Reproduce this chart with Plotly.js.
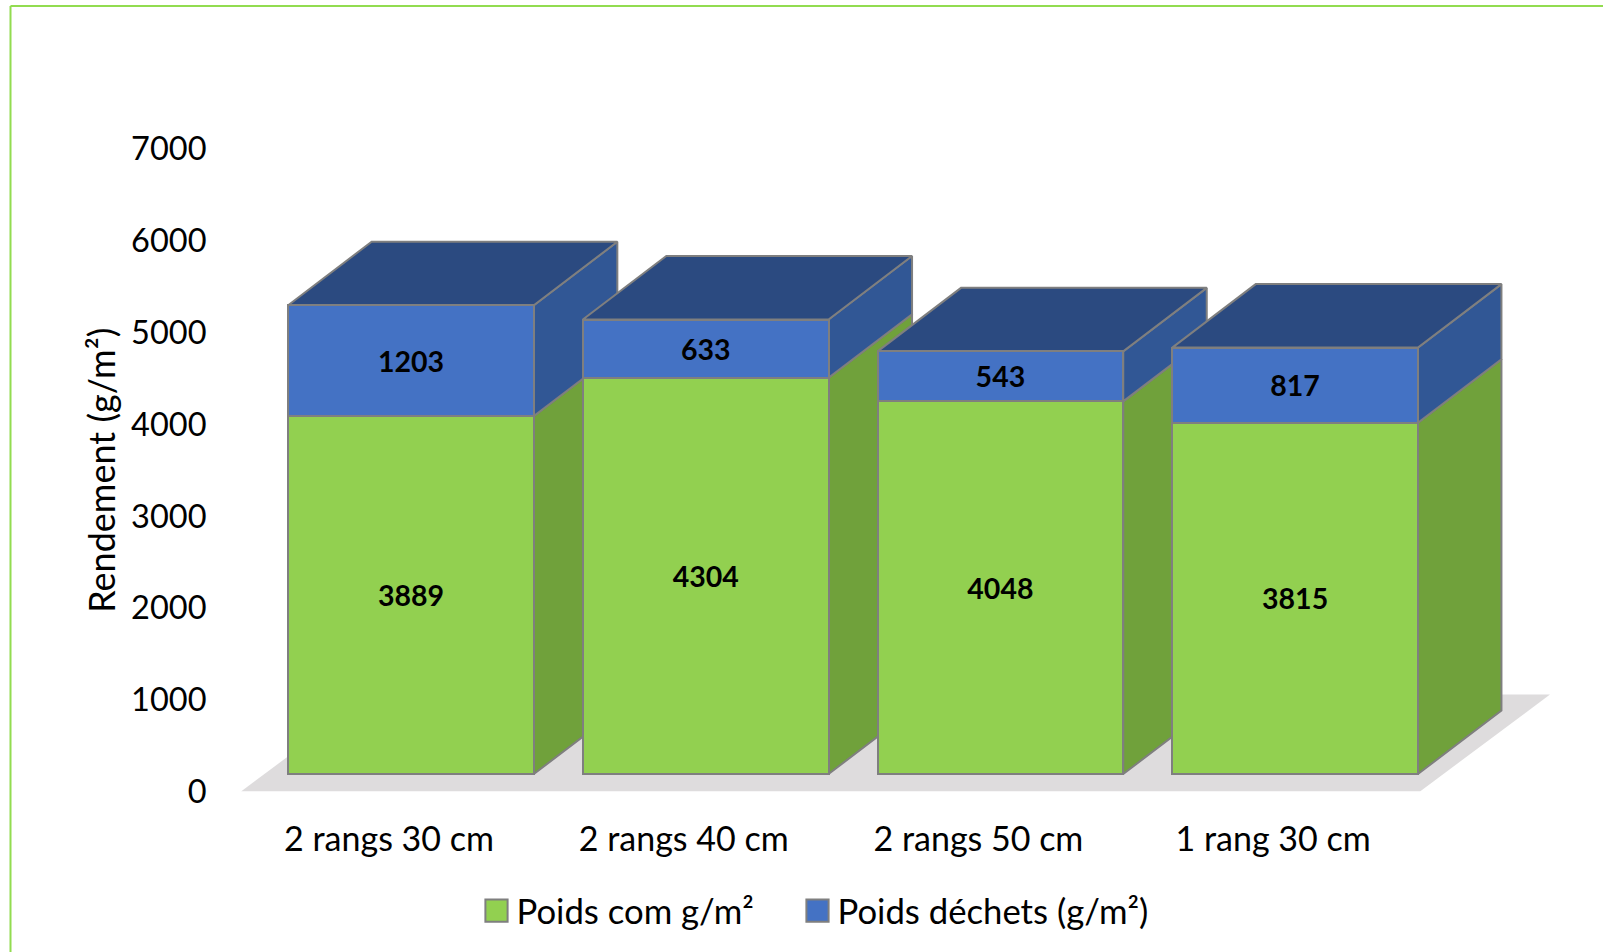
<!DOCTYPE html>
<html>
<head>
<meta charset="utf-8">
<script src="https://cdn.plot.ly/plotly-3.0.1.min.js"></script>
<style>html,body{margin:0;padding:0;background:#fff;overflow:hidden}#chart{width:1603px;height:952px}</style>
</head>
<body>
<div id="chart"></div>
<script>
const categories = ['2 rangs 30 cm', '2 rangs 40 cm', '2 rangs 50 cm', '1 rang 30 cm'];
const poidsCom = [3889, 4304, 4048, 3815];
const poidsDechets = [1203, 633, 543, 817];
const yTicks = [0, 1000, 2000, 3000, 4000, 5000, 6000, 7000];

const W = 1603, H = 952, FONT = 'Lato, "Open Sans", sans-serif';
const GREEN = '#92D050', GREEN_SIDE = '#70A13B', BLUE = '#4472C4', BLUE_SIDE = '#315795', BLUE_TOP = '#2B4A80';
const EDGE = '#7F7F7F', FLOOR = '#DEDCDD', FRAME = '#92DC50';

// Pixel geometry of the plotting frame
const pitch = 294.7, x0px = 411, domL = 215, domR = 1590;
const yBottom = 791.5, yTop = 149, scale = 0.09206, barBase = 774;
const barW = 0.8337, depthX = 83.5 / pitch, depthY = 63.5 / scale;
const xPos = categories.map((_, i) => i);
const baseUnits = (yBottom - barBase) / scale;
const spanUnits = (yBottom - yTop) / scale;

const traces = [];
// floor, on the labelled axis
const fL = (241 - x0px) / pitch, fR = (1420 - x0px) / pitch, fDx = 130 / pitch, fH = 97 / ((yBottom - yTop) / 7000);
traces.push({type: 'scatter', mode: 'none', fill: 'toself', fillcolor: FLOOR, showlegend: false, hoverinfo: 'skip',
  x: [fL, fR, fR + fDx, fL + fDx, fL], y: [0, 0, fH, fH, 0], xaxis: 'x', yaxis: 'y'});

function poly(xs, ys, col) {
  traces.push({type: 'scatter', mode: 'lines', fill: 'toself', fillcolor: col, showlegend: false, hoverinfo: 'skip',
    line: {color: EDGE, width: 2}, x: xs, y: ys, xaxis: 'x', yaxis: 'y2'});
}
xPos.forEach((c, i) => {
  const l = c - barW / 2, r = c + barW / 2, g = poidsCom[i], t = g + poidsDechets[i];
  poly([r, r + depthX, r + depthX, r, r], [0, depthY, g + depthY, g, 0], GREEN_SIDE);
  poly([r, r + depthX, r + depthX, r, r], [g, g + depthY, t + depthY, t, g], BLUE_SIDE);
  poly([l, r, r + depthX, l + depthX, l], [t, t, t + depthY, t + depthY, t], BLUE_TOP);
});
const barCommon = {type: 'bar', x: xPos, width: barW, xaxis: 'x', yaxis: 'y3', textposition: 'inside', insidetextanchor: 'middle',
  textangle: 0, constraintext: 'none', hoverinfo: 'name+y',
  textfont: {family: FONT, size: 28.5, color: '#000', weight: 700}};
traces.push(Object.assign({}, barCommon, {name: 'Poids com g/m²', y: poidsCom, text: poidsCom.map(String),
  marker: {color: GREEN, line: {color: EDGE, width: 2}}}));
traces.push(Object.assign({}, barCommon, {name: 'Poids déchets (g/m²)', y: poidsDechets, text: poidsDechets.map(String),
  marker: {color: BLUE, line: {color: EDGE, width: 2}}}));

const yDomain = [(H - yBottom) / H, (H - yTop) / H];
const hidden = {visible: false, overlaying: 'y', domain: yDomain, range: [-baseUnits, spanUnits - baseUnits], fixedrange: true};
const layout = {
  width: W, height: H, margin: {l: 0, r: 0, t: 0, b: 0}, paper_bgcolor: '#fff', plot_bgcolor: 'rgba(0,0,0,0)',
  font: {family: FONT, color: '#000'}, barmode: 'stack', showlegend: true,
  xaxis: {domain: [domL / W, domR / W], range: [(domL - x0px) / pitch, (domR - x0px) / pitch], showgrid: false, zeroline: false, showline: false,
    tickmode: 'array', tickvals: xPos.map(v => v - 22 / pitch), ticktext: categories, ticks: 'outside', ticklen: 18, tickcolor: 'rgba(0,0,0,0)',
    tickfont: {family: FONT, size: 34, color: '#000'}, fixedrange: true},
  yaxis: {domain: yDomain, range: [0, 7000], showgrid: false, zeroline: false, showline: false, tickmode: 'array', tickvals: yTicks,
    ticks: 'outside', ticklen: 1, tickcolor: 'rgba(0,0,0,0)', tickfont: {family: FONT, size: 32.5, color: '#000'}, fixedrange: true,
    title: {text: 'Rendement (g/m²)', standoff: 4, font: {family: FONT, size: 36, color: '#000'}}},
  yaxis2: hidden,
  yaxis3: Object.assign({}, hidden),
  legend: {orientation: 'h', traceorder: 'normal', x: 476.5 / W, xanchor: 'left', y: (H - 911) / H, yanchor: 'middle', bgcolor: 'rgba(0,0,0,0)',
    entrywidthmode: 'pixels', entrywidth: 276,
    font: {family: FONT, size: 34.7, color: '#000'}, itemclick: false, itemdoubleclick: false},
  shapes: [
    {type: 'line', xref: 'paper', yref: 'paper', x0: 10.5 / W, x1: 10.5 / W, y0: 0, y1: (H - 6) / H, line: {color: FRAME, width: 2}},
    {type: 'line', xref: 'paper', yref: 'paper', x0: 10.5 / W, x1: 1, y0: (H - 6) / H, y1: (H - 6) / H, line: {color: FRAME, width: 2}}
  ]
};
Plotly.newPlot('chart', traces, layout, {displayModeBar: false}).then(() => {
  document.querySelectorAll('#chart .legend .legendpoints path').forEach(p => {
    p.setAttribute('transform', (p.getAttribute('transform') || '') + ' scale(1.85)');
    p.style.vectorEffect = 'non-scaling-stroke';
  });
  const box = document.querySelector('#chart .legend .scrollbox');
  if (box) box.removeAttribute('clip-path');
});
</script>
</body>
</html>
